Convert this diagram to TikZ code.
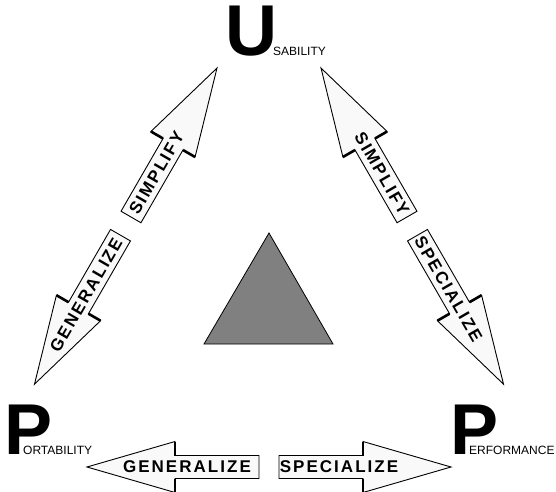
\documentclass[tikz,border=0pt]{standalone}
\usepackage{fontspec}
\setmainfont{Liberation Sans}
\newfontfamily\arrowfont[LetterSpace=12]{Liberation Sans}

\tikzset{
    fat arrow/.pic={
        \filldraw[arrow body] (0,-11.5) -- (84,-11.5) -- (84,-25.5) -- (172,0)
            -- (84,25.5) -- (84,11.5) -- (0,11.5) -- cycle;
        \draw[shoulder] (84,11.5) -- (84,25.5);
        \draw[shoulder] (84,-11.5) -- (84,-25.5);
    }
}

\begin{document}
\begin{tikzpicture}[
    x=1pt, y=1pt,
    arrow body/.style={draw=black, fill=gray!5, line width=0.9pt, line join=miter},
    shoulder/.style={draw=black, line width=2.6pt},
    arrow label/.style={inner sep=0pt, font=\arrowfont\bfseries\fontsize{17}{17}\selectfont},
    big letter/.style={inner sep=0pt, anchor=base west, font=\bfseries\fontsize{72}{72}\selectfont},
    small word/.style={inner sep=0pt, anchor=base west, font=\fontsize{12}{12}\selectfont}
]
\useasboundingbox (0,0) rectangle (556,491);

% three corners
\node[big letter] (U) at (225,435) {U};
\node[small word] (Usab) at (273,435) {SABILITY};
\node[big letter] (P1) at (4,37) {P};
\node[small word] (P1rt) at (23,37) {ORTABILITY};
\node[big letter] (P2) at (450,37) {P};
\node[small word] (P2rf) at (469,37) {ERFORMANCE};

% rear ends of the arrows
\coordinate (simpL) at (131,274);
\coordinate (geneL) at (120.5,255.8);
\coordinate (simpR) at (407,274);
\coordinate (specR) at (417.5,255.8);
\coordinate (geneB) at (259,24);
\coordinate (specB) at (279,24);

% left side: portability <-> usability
\pic[rotate=60] at (simpL) {fat arrow};
\node[arrow label, rotate=60] (simpLt) at ([shift={(60:51)}]simpL) {SIMPLIFY};
\pic[rotate=240] at (geneL) {fat arrow};
\node[arrow label, rotate=60] (geneLt) at ([shift={(240:69)}]geneL) {GENERALIZE};

% right side: performance <-> usability
\pic[rotate=120] at (simpR) {fat arrow};
\node[arrow label, rotate=-60] (simpRt) at ([shift={(120:50)}]simpR) {SIMPLIFY};
\pic[rotate=-60] at (specR) {fat arrow};
\node[arrow label, rotate=-60] (specRt) at ([shift={(-60:62)}]specR) {SPECIALIZE};

% bottom: portability <-> performance
\pic[rotate=180] at (geneB) {fat arrow};
\node[arrow label] (geneBt) at ([shift={(180:72)}]geneB) {GENERALIZE};
\pic at (specB) {fat arrow};
\node[arrow label] (specBt) at ([shift={(0:60)}]specB) {SPECIALIZE};

% centre triangle
\filldraw[fill=black!50, draw=black, line width=0.8pt] (204,147) -- (269,258) -- (333,147) -- cycle;

\end{tikzpicture}
\end{document}
